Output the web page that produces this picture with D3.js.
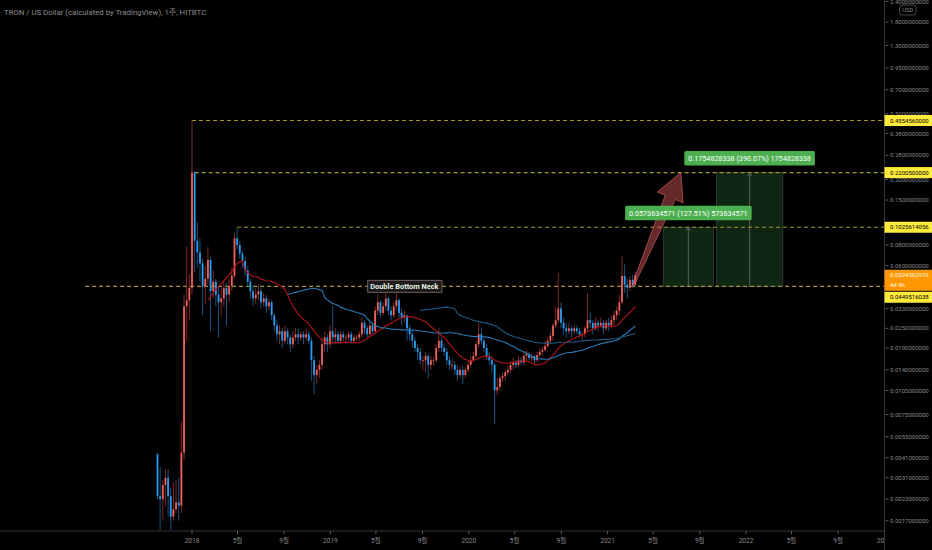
<!DOCTYPE HTML>
<head>
    <meta charset="utf-8">
    <script src="https://cdn.jsdelivr.net/npm/d3@7/dist/d3.min.js"></script>
</head>

<body>
    <svg width="932" height="550"></svg>
</body>

<style>
    body { margin: 0; background: #000; }
    svg { display: block; background: #000; }
    text { font-family: Roboto, "Noto Sans CJK KR", sans-serif; }
</style>

<script>
    var w = 932;
    var h = 550;
    var axisX = 884.5;
    var axisY = 531;

    // weekly candles, first week starts 2017-10-02, open of each week = previous close
    var firstWeek = new Date(2017, 9, 2);
    var firstOpen = 0.0043;
    var closes = [
        0.0024, 0.0023, 0.0028, 0.0031, 0.0024, 0.0018, 0.0020, 0.0022, 0.0021, 0.0044,
        0.034, 0.037, 0.044, 0.22005, 0.085, 0.072, 0.062, 0.045, 0.050, 0.065,
        0.042, 0.048, 0.040, 0.036, 0.038, 0.044, 0.040, 0.045, 0.052, 0.088,
        0.080, 0.071, 0.064, 0.056, 0.048, 0.042, 0.038, 0.040, 0.042, 0.036,
        0.038, 0.034, 0.036, 0.030, 0.026, 0.023, 0.024, 0.021, 0.024, 0.022,
        0.020, 0.022, 0.023, 0.022, 0.023, 0.022, 0.023, 0.021, 0.016, 0.013,
        0.014, 0.015, 0.020, 0.022, 0.020, 0.024, 0.022, 0.023, 0.021, 0.023,
        0.022, 0.022, 0.023, 0.021, 0.022, 0.022, 0.023, 0.027, 0.025, 0.023,
        0.026, 0.024, 0.032, 0.036, 0.031, 0.034, 0.038, 0.032, 0.030, 0.034,
        0.037, 0.031, 0.029, 0.030, 0.025, 0.023, 0.021, 0.019, 0.018, 0.016,
        0.016, 0.017, 0.015, 0.016, 0.016, 0.019, 0.021, 0.019, 0.018, 0.016,
        0.015, 0.015, 0.014, 0.013, 0.014, 0.013, 0.014, 0.015, 0.016, 0.017,
        0.020, 0.023, 0.021, 0.019, 0.017, 0.016, 0.015, 0.0105, 0.0110, 0.0125,
        0.0128, 0.0135, 0.0140, 0.0150, 0.0155, 0.0150, 0.0160, 0.0155, 0.0170, 0.0175,
        0.0165, 0.0168, 0.0160, 0.0172, 0.0180, 0.0185, 0.0195, 0.0210, 0.0225, 0.026,
        0.028, 0.033, 0.027, 0.025, 0.024, 0.025, 0.024, 0.025, 0.024, 0.023,
        0.023, 0.025, 0.028, 0.027, 0.025, 0.027, 0.026, 0.027, 0.025, 0.027,
        0.026, 0.028, 0.030, 0.032, 0.036, 0.052, 0.046, 0.044, 0.049, 0.046,
        0.0524562970
    ];
    var highs = [
        0.0044, 0.0036, 0.0030, 0.0035, 0.0035, 0.0027, 0.0029, 0.0030, 0.0031, 0.0068,
        0.040, 0.078, 0.053, 0.455456, 0.225, 0.110, 0.088, 0.066, 0.060, 0.078,
        0.068, 0.056, 0.050, 0.045, 0.044, 0.048, 0.047, 0.050, 0.058, 0.095,
        0.1025614056, 0.085, 0.074, 0.068, 0.060, 0.050, 0.046, 0.044, 0.046, 0.044,
        0.041, 0.040, 0.038, 0.037, 0.031, 0.028, 0.026, 0.025, 0.026, 0.025,
        0.023, 0.024, 0.025, 0.025, 0.024, 0.024, 0.025, 0.024, 0.022, 0.017,
        0.015, 0.016, 0.022, 0.024, 0.023, 0.026, 0.034, 0.025, 0.024, 0.024,
        0.024, 0.023, 0.024, 0.024, 0.023, 0.023, 0.024, 0.029, 0.028, 0.026,
        0.027, 0.027, 0.034, 0.040, 0.037, 0.036, 0.045, 0.039, 0.034, 0.036,
        0.044, 0.038, 0.033, 0.032, 0.030, 0.026, 0.024, 0.022, 0.020, 0.019,
        0.017, 0.018, 0.0175, 0.017, 0.0168, 0.020, 0.025, 0.022, 0.020, 0.019,
        0.017, 0.0162, 0.0158, 0.015, 0.0148, 0.0148, 0.0145, 0.0158, 0.017, 0.018,
        0.021, 0.027, 0.025, 0.022, 0.020, 0.018, 0.017, 0.0155, 0.0125, 0.013,
        0.0135, 0.014, 0.0148, 0.0158, 0.0165, 0.016, 0.017, 0.0168, 0.018, 0.0185,
        0.018, 0.0178, 0.0172, 0.018, 0.019, 0.0195, 0.021, 0.022, 0.024, 0.027,
        0.034, 0.054, 0.036, 0.029, 0.027, 0.027, 0.026, 0.026, 0.026, 0.025,
        0.024, 0.026, 0.041, 0.031, 0.028, 0.029, 0.028, 0.029, 0.028, 0.028,
        0.029, 0.030, 0.032, 0.034, 0.040, 0.068, 0.061, 0.050, 0.052, 0.053,
        0.055
    ];
    var lows = [
        0.0023, 0.0015, 0.0017, 0.0021, 0.0018, 0.0015, 0.0017, 0.0019, 0.0017, 0.0019,
        0.0040, 0.021, 0.028, 0.040, 0.055, 0.058, 0.048, 0.030, 0.035, 0.046,
        0.024, 0.038, 0.034, 0.022, 0.030, 0.034, 0.026, 0.036, 0.042, 0.050,
        0.075, 0.066, 0.058, 0.052, 0.045, 0.038, 0.034, 0.035, 0.037, 0.033,
        0.034, 0.031, 0.032, 0.028, 0.024, 0.021, 0.020, 0.019, 0.020, 0.020,
        0.018, 0.019, 0.021, 0.020, 0.021, 0.020, 0.021, 0.020, 0.012, 0.0100,
        0.0115, 0.0125, 0.014, 0.018, 0.018, 0.019, 0.020, 0.020, 0.020, 0.020,
        0.021, 0.020, 0.021, 0.020, 0.020, 0.021, 0.021, 0.022, 0.023, 0.022,
        0.022, 0.023, 0.023, 0.030, 0.029, 0.030, 0.032, 0.030, 0.028, 0.029,
        0.032, 0.029, 0.026, 0.027, 0.021, 0.021, 0.019, 0.018, 0.016, 0.015,
        0.014, 0.0135, 0.0125, 0.014, 0.0148, 0.0155, 0.018, 0.018, 0.017, 0.015,
        0.014, 0.014, 0.013, 0.012, 0.0125, 0.0115, 0.0125, 0.0135, 0.0145, 0.0155,
        0.0165, 0.019, 0.020, 0.018, 0.016, 0.015, 0.0135, 0.0066, 0.0098, 0.0105,
        0.0118, 0.012, 0.013, 0.0135, 0.014, 0.0143, 0.0145, 0.015, 0.015, 0.016,
        0.016, 0.0158, 0.0152, 0.0158, 0.0168, 0.0172, 0.018, 0.019, 0.020, 0.021,
        0.025, 0.027, 0.025, 0.023, 0.022, 0.023, 0.022, 0.023, 0.023, 0.022,
        0.021, 0.022, 0.024, 0.025, 0.023, 0.024, 0.024, 0.025, 0.023, 0.024,
        0.024, 0.025, 0.026, 0.028, 0.030, 0.035, 0.041, 0.038, 0.042, 0.044,
        0.045
    ];

    var maLengths = [20, 50, 100];

    // horizontal levels and where they start
    var levels = [0.4554560000, 0.2200500000, 0.1025614056, 0.0449516038];
    var levelStarts = [new Date(2018, 0, 1), new Date(2018, 0, 8), new Date(2018, 3, 30), new Date(2017, 2, 25)];
    var lastPrice = 0.0524562970;
    var countdown = "4d 9h";

    // ticks that sit under the price labels (0.11, 0.045) are left out
    var priceTicks = [2.4, 1.8, 1.3, 0.95, 0.7, 0.5, 0.38, 0.28, 0.2, 0.15, 0.08, 0.06,
        0.033, 0.025, 0.019, 0.014, 0.0105, 0.0075, 0.0055, 0.0041, 0.0031, 0.0023, 0.0017];

    // long position boxes
    var posFrom = [new Date(2021, 4, 28), new Date(2021, 9, 15)];
    var posTo = [new Date(2021, 9, 7), new Date(2022, 3, 8)];
    var posEntry = 0.0449516038;
    var posTarget = [0.1025614056, 0.2200500000];
    var posText = ["0.0573634571 (127.51%) 573634571", "0.1754828338 (390.07%) 1754828338"];

    var arrowFrom = [new Date(2021, 2, 9), 0.0455];
    var arrowTo = [new Date(2021, 6, 13), 0.2200500000];

    var neckText = "Double Bottom Neck";
    var neckDate = new Date(2019, 6, 15);

    var title = "TRON / US Dollar (calculated by TradingView), 1주, HITBTC";

    var vis = d3.select("svg");

    var x = d3.scaleTime()
        .domain([new Date(2018, 0, 1), new Date(2022, 0, 1)])
        .range([192, 746]);
    var y = d3.scaleLog()
        .domain([0.0017, 0.455456])
        .range([520.8, 120.5]);

    var candles = closes.map(function(c, i) {
        return {
            date: d3.timeDay.offset(firstWeek, 7 * i),
            open: i == 0 ? firstOpen : closes[i - 1],
            high: highs[i],
            low: lows[i],
            close: c
        };
    });

    vis.append("defs").append("clipPath").attr("id", "plot")
        .append("rect").attr("x", 0).attr("y", 0).attr("width", axisX).attr("height", axisY);

    var plot = vis.append("g").attr("clip-path", "url(#plot)");

    //position boxes
    posFrom.forEach(function(d, i) {
        var x0 = x(d), x1 = x(posTo[i]);
        var yt = y(posTarget[i]), yb = y(posEntry);
        plot.append("rect")
            .attr("x", x0).attr("y", yt)
            .attr("width", x1 - x0).attr("height", yb - yt)
            .attr("fill", "#0f2612")
            .attr("stroke", "#34423a").attr("stroke-width", 0.8);
        var cx = (x0 + x1) / 2;
        plot.append("line")
            .attr("x1", cx).attr("x2", cx).attr("y1", yt + 1).attr("y2", yb)
            .attr("stroke", "#6d6d6d").attr("stroke-width", 0.8);
        plot.append("path")
            .attr("d", "M" + (cx - 2.5) + "," + (yt + 3.5) + "L" + cx + "," + (yt + 1) + "L" + (cx + 2.5) + "," + (yt + 3.5))
            .attr("fill", "none").attr("stroke", "#7a7a7a").attr("stroke-width", 0.8);
    });

    //dashed levels
    plot.selectAll(".level")
        .data(levels)
        .enter()
        .append("line")
        .attr("class", "level")
        .attr("x1", (d, i) => x(levelStarts[i]))
        .attr("x2", axisX)
        .attr("y1", (d) => y(d))
        .attr("y2", (d) => y(d))
        .attr("stroke", "#a39526")
        .attr("stroke-width", 1.2)
        .attr("stroke-dasharray", "4,3");

    //candles
    var bw = 1.8;
    plot.selectAll(".wick")
        .data(candles)
        .enter()
        .append("line")
        .attr("x1", (d) => x(d.date))
        .attr("x2", (d) => x(d.date))
        .attr("y1", (d) => y(d.high))
        .attr("y2", (d) => y(d.low))
        .attr("stroke", (d) => d.close >= d.open ? "#8a2f2f" : "#1d5c8c")
        .attr("stroke-width", 0.9);

    plot.selectAll(".body")
        .data(candles)
        .enter()
        .append("rect")
        .attr("x", (d) => x(d.date) - bw / 2)
        .attr("y", (d) => y(Math.max(d.open, d.close)))
        .attr("width", bw)
        .attr("height", (d) => Math.max(0.8, Math.abs(y(d.open) - y(d.close))))
        .attr("fill", (d) => d.close >= d.open ? "#f0615c" : "#2a9cf0");

    //moving averages
    var maColors = ["#b3141c", "#2a7ab8", "#1b5a86"];
    maLengths.forEach(function(n, k) {
        var pts = [];
        for (var i = n - 1; i < candles.length; i++) {
            pts.push([candles[i].date, d3.mean(closes.slice(i - n + 1, i + 1))]);
        }
        plot.append("path")
            .datum(pts)
            .attr("fill", "none")
            .attr("stroke", maColors[k])
            .attr("stroke-width", 1.1)
            .attr("d", d3.line().x((d) => x(d[0])).y((d) => y(d[1])));
    });

    //arrow
    var ax0 = x(arrowFrom[0]), ay0 = y(arrowFrom[1]);
    var ax1 = x(arrowTo[0]), ay1 = y(arrowTo[1]);
    var len = Math.hypot(ax1 - ax0, ay1 - ay0);
    var ux = (ax1 - ax0) / len, uy = (ay1 - ay0) / len;
    var nx = -uy, ny = ux;
    var bx = ax1 - ux * 27, by = ay1 - uy * 27;
    var arrowPts = [
        [ax0 + nx * 1, ay0 + ny * 1],
        [bx + nx * 5.5, by + ny * 5.5],
        [bx + nx * 14, by + ny * 14],
        [ax1, ay1],
        [bx - nx * 14, by - ny * 14],
        [bx - nx * 5.5, by - ny * 5.5],
        [ax0 - nx * 1, ay0 - ny * 1]
    ];
    plot.append("polygon")
        .attr("points", arrowPts.map((p) => p.join(",")).join(" "))
        .attr("fill", "rgba(226,92,92,0.45)")
        .attr("stroke", "rgba(235,110,110,0.7)")
        .attr("stroke-width", 0.8);

    //neck label
    var neck = plot.append("g");
    var neckT = neck.append("text")
        .attr("x", x(neckDate)).attr("y", y(levels[3]))
        .attr("dy", "0.35em")
        .attr("text-anchor", "middle")
        .attr("font-size", 7.4)
        .attr("font-weight", "bold")
        .attr("fill", "#e6f2e0")
        .text(neckText);
    var nb = neckT.node().getBBox();
    neck.insert("rect", "text")
        .attr("x", nb.x - 2.5).attr("y", y(levels[3]) - 6)
        .attr("width", nb.width + 5).attr("height", 12)
        .attr("fill", "#1c1a1a").attr("stroke", "#86706f").attr("stroke-width", 0.8);

    //position labels
    posText.forEach(function(t, i) {
        var cx = (x(posFrom[i]) + x(posTo[i])) / 2;
        var yb = y(posTarget[i]) - 7;
        var g = plot.append("g");
        var tt = g.append("text")
            .attr("x", cx).attr("y", yb - 7)
            .attr("dy", "0.35em")
            .attr("text-anchor", "middle")
            .attr("font-size", 7.2)
            .attr("fill", "#ffffff")
            .text(t);
        var bb = tt.node().getBBox();
        g.insert("rect", "text")
            .attr("x", bb.x - 4).attr("y", yb - 14.5)
            .attr("width", bb.width + 8).attr("height", 14.5)
            .attr("rx", 1.5)
            .attr("fill", "#4caf50");
    });

    //title
    vis.append("text")
        .attr("x", 4).attr("y", 15)
        .attr("font-family", "'DejaVu Sans Mono', 'Noto Sans CJK KR', monospace")
        .attr("font-size", 7.8)
        .attr("fill", "#8c8c8c")
        .text(title);

    //time axis
    vis.append("line")
        .attr("x1", 0).attr("x2", w).attr("y1", axisY).attr("y2", axisY)
        .attr("stroke", "#34373d").attr("stroke-width", 1);

    var months = d3.timeMonths(new Date(2018, 0, 1), new Date(2023, 0, 2), 4);
    vis.selectAll(".xt")
        .data(months)
        .enter()
        .append("line")
        .attr("x1", (d) => x(d)).attr("x2", (d) => x(d))
        .attr("y1", axisY).attr("y2", axisY + 3)
        .attr("stroke", "#5a5d63");
    vis.selectAll(".xl")
        .data(months)
        .enter()
        .append("text")
        .attr("x", (d) => x(d))
        .attr("y", 541)
        .attr("dy", "0.35em")
        .attr("text-anchor", "middle")
        .attr("font-size", 6.5)
        .attr("fill", "#8a8a8a")
        .text((d) => d.getMonth() == 0 ? d.getFullYear() : (d.getMonth() + 1) + "월");

    //price panel
    vis.append("rect")
        .attr("x", axisX).attr("y", 0).attr("width", w - axisX).attr("height", h)
        .attr("fill", "#000");
    vis.append("line")
        .attr("x1", axisX).attr("x2", axisX).attr("y1", 0).attr("y2", h)
        .attr("stroke", "#34373d").attr("stroke-width", 1);

    vis.selectAll(".yt")
        .data(priceTicks)
        .enter()
        .append("line")
        .attr("x1", axisX + 1).attr("x2", axisX + 4)
        .attr("y1", (d) => y(d)).attr("y2", (d) => y(d))
        .attr("stroke", "#5a5d63");
    vis.selectAll(".yl")
        .data(priceTicks)
        .enter()
        .append("text")
        .attr("x", axisX + 5.5)
        .attr("y", (d) => y(d))
        .attr("dy", "0.35em")
        .attr("font-size", 6)
        .attr("fill", "#8a8a8a")
        .text((d) => d3.format(".10f")(d));

    // USD badge
    vis.append("rect")
        .attr("x", 899.5).attr("y", 5).attr("width", 16.5).attr("height", 10)
        .attr("rx", 2.5).attr("fill", "#000").attr("stroke", "#5a5a5a").attr("stroke-width", 0.8);
    vis.append("text")
        .attr("x", 907.7).attr("y", 10).attr("dy", "0.35em")
        .attr("text-anchor", "middle").attr("font-size", 5.8).attr("fill", "#8a8a8a")
        .text("USD");

    //last price box
    var yLast = y(lastPrice);
    vis.append("rect")
        .attr("x", axisX).attr("y", yLast - 5.5).attr("width", w - axisX).attr("height", 21)
        .attr("fill", "#ff9800");
    vis.append("text")
        .attr("x", axisX + 5.5).attr("y", yLast).attr("dy", "0.35em")
        .attr("font-size", 6).attr("fill", "#fff8e8")
        .text(d3.format(".10f")(lastPrice));
    vis.append("text")
        .attr("x", axisX + 5.5).attr("y", yLast + 9.5).attr("dy", "0.35em")
        .attr("font-size", 6).attr("fill", "#fff8e8")
        .text(countdown);

    //level labels
    levels.forEach(function(v) {
        var yc = y(v);
        if (yc - 5.5 < yLast + 15.5 && yc + 5.5 > yLast - 5.5) {
            yc = yLast + 16.5 + 5.5;
        }
        vis.append("rect")
            .attr("x", axisX).attr("y", yc - 5.5).attr("width", w - axisX).attr("height", 11)
            .attr("fill", "#ffeb3b");
        vis.append("text")
            .attr("x", axisX + 5.5).attr("y", yc).attr("dy", "0.35em")
            .attr("font-size", 6).attr("fill", "#000")
            .text(d3.format(".10f")(v));
    });
</script>
